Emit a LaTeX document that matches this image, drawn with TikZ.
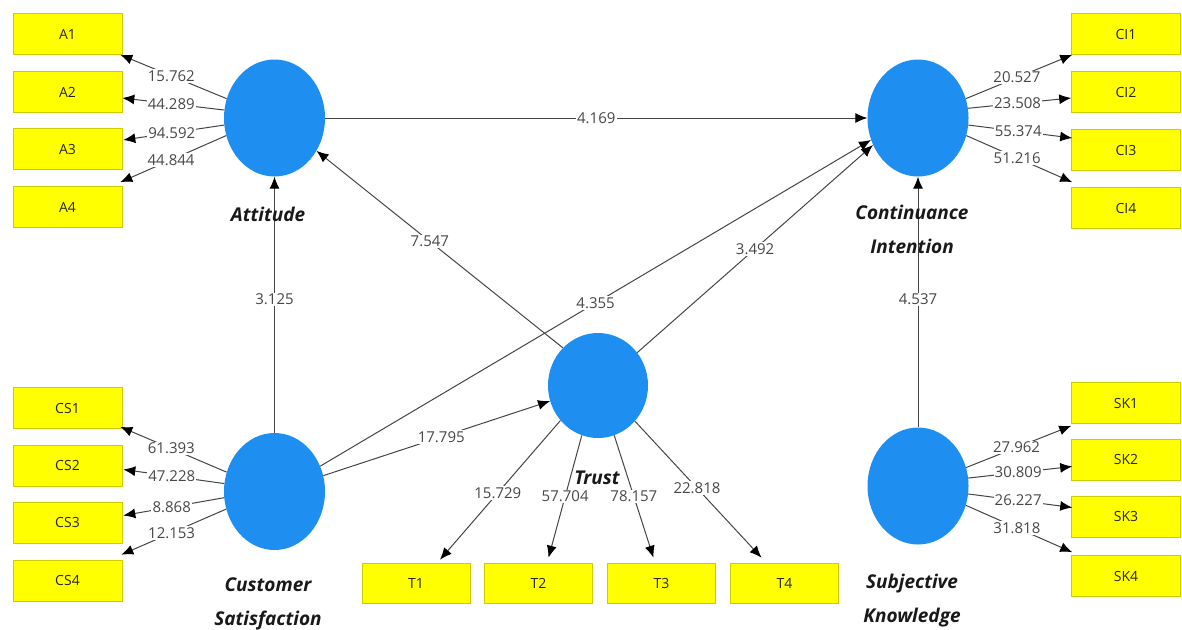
\documentclass[tikz,border=0pt]{standalone}
\usepackage{fontspec}
\setmainfont{Open Sans}
\usetikzlibrary{shapes.geometric,arrows.meta,calc}
\definecolor{lv}{HTML}{1E8FF0}
\definecolor{ind}{HTML}{FFFF00}
\definecolor{ln}{HTML}{454545}
\begin{document}
\begin{tikzpicture}[x=1pt,y=-1pt,
 lvnode/.style={ellipse, fill=lv, minimum width=101pt, minimum height=117pt, inner sep=0pt},
 indbox/.style={rectangle, fill=ind, draw=ind!80!black, line width=0.6pt, minimum width=109pt, minimum height=41pt, font=\fontsize{14}{16}\selectfont, text=black!85, inner sep=0pt},
 conn/.style={draw=ln, line width=1pt, -{Latex[length=12pt,width=10pt,color=black]}},
 val/.style={fill=white, inner sep=1.2pt, font=\fontsize{15}{16}\selectfont, text=black!72},
 lvlabel/.style={font=\fontsize{19}{34}\selectfont\bfseries\itshape, align=center, text=black!90}
]
\useasboundingbox[fill=white] (0,0) rectangle (1182,629);

% latent variables
\node[lvnode] (att) at (274.5,118) {};
\node[lvnode] (ci) at (918,118) {};
\node[lvnode] (cs) at (274.5,491.5) {};
\node[lvnode, minimum width=100pt, minimum height=105pt] (tr) at (598,385.5) {};
\node[lvnode] (sk) at (918,486) {};

% indicators
\node[indbox] (A1) at (67.5,34) {A1};
\node[indbox] (A2) at (67.5,92) {A2};
\node[indbox] (A3) at (67.5,149) {A3};
\node[indbox] (A4) at (67.5,207) {A4};
\node[indbox] (CS1) at (67.5,408) {CS1};
\node[indbox] (CS2) at (67.5,465.5) {CS2};
\node[indbox] (CS3) at (67.5,522.5) {CS3};
\node[indbox] (CS4) at (67.5,580.5) {CS4};
\node[indbox] (CI1) at (1126,34) {CI1};
\node[indbox] (CI2) at (1126,92) {CI2};
\node[indbox] (CI3) at (1126,150) {CI3};
\node[indbox] (CI4) at (1126,208) {CI4};
\node[indbox] (SK1) at (1126,403) {SK1};
\node[indbox] (SK2) at (1126,459.5) {SK2};
\node[indbox] (SK3) at (1126,516.5) {SK3};
\node[indbox] (SK4) at (1126,576) {SK4};
\node[indbox, minimum width=108pt, minimum height=40pt] (T1) at (416,583) {T1};
\node[indbox, minimum width=108pt, minimum height=40pt] (T2) at (538.5,583) {T2};
\node[indbox, minimum width=108pt, minimum height=40pt] (T3) at (661.5,583) {T3};
\node[indbox, minimum width=108pt, minimum height=40pt] (T4) at (784.5,583) {T4};

% outer model: Attitude
\draw[conn] (att.158) -- node[val,pos=0.52] {15.762} ($(A1.south east)+(-2,0)$);
\draw[conn] (att.171) -- node[val,pos=0.52] {44.289} ($(A2.east)+(0,6)$);
\draw[conn] (att.188) -- node[val,pos=0.52] {94.592} ($(A3.east)+(1,-9)$);
\draw[conn] (att.200) -- node[val,pos=0.52] {44.844} ($(A4.north east)+(-2,-4)$);
% Customer Satisfaction
\draw[conn] (cs.158) -- node[val,pos=0.52] {61.393} ($(CS1.south east)+(-2,-2)$);
\draw[conn] (cs.171) -- node[val,pos=0.52] {47.228} ($(CS2.east)+(1,4)$);
\draw[conn] (cs.187) -- node[val,pos=0.52] {8.868} ($(CS3.east)+(1,-7)$);
\draw[conn] (cs.200) -- node[val,pos=0.52] {12.153} ($(CS4.north east)+(-1,-5)$);
% Continuance Intention
\draw[conn] (ci.22) -- node[val,pos=0.48] {20.527} ($(CI1.south west)+(1,0)$);
\draw[conn] (ci.11) -- node[val,pos=0.48] {23.508} ($(CI2.west)+(0,6)$);
\draw[conn] (ci.-8) -- node[val,pos=0.48] {55.374} ($(CI3.west)+(1,-12)$);
\draw[conn] (ci.-20) -- node[val,pos=0.48] {51.216} ($(CI4.north west)+(1,-5)$);
% Subjective Knowledge
\draw[conn] (sk.21) -- node[val,pos=0.48] {27.962} ($(SK1.south west)+(0,2)$);
\draw[conn] (sk.9) -- node[val,pos=0.48] {30.809} ($(SK2.west)+(1,7)$);
\draw[conn] (sk.-9) -- node[val,pos=0.48] {26.227} ($(SK3.west)+(1,-9)$);
\draw[conn] (sk.-22) -- node[val,pos=0.48] {31.818} ($(SK4.north west)+(1,-3)$);
% Trust
\draw[conn] (tr.223) -- node[val,pos=0.52] {15.729} ($(T1.north)+(24,-3)$);
\draw[conn] (tr.252) -- node[val,pos=0.50] {57.704} ($(T2.north)+(10,-5)$);
\draw[conn] (tr.288) -- node[val,pos=0.50] {78.157} ($(T3.north)+(-8,-5)$);
\draw[conn] (tr.316) -- node[val,pos=0.49] {22.818} ($(T4.north)+(-23,-5)$);

% inner model
\draw[conn] (att.east) -- node[val,pos=0.5] {4.169} (ci.west);
\draw[conn] (tr.133) -- node[val,pos=0.54] {7.547} (att.322);
\draw[conn] (cs.29) -- node[val,pos=0.50] {4.355} (ci.205);
\draw[conn] (tr.40) -- node[val,pos=0.50] {3.492} (ci.211);
\draw[conn] (cs.18) -- node[val,pos=0.52] {17.795} (tr.198);
\draw[conn] (cs.north) -- node[val,pos=0.52] {3.125} (att.south);
\draw[conn] (sk.north) -- node[val,pos=0.51] {4.537} (ci.south);

% construct labels
\node[lvlabel] (latt) at (268,214) {Attitude};
\node[lvlabel, anchor=north] (lci) at (912,202) {Continuance\\Intention};
\node[lvlabel, anchor=north] (lcs) at (268,574) {Customer\\Satisfaction};
\node[lvlabel] (ltr) at (597,478) {Trust};
\node[lvlabel, anchor=north] (lsk) at (912,571) {Subjective\\Knowledge};
\end{tikzpicture}
\end{document}
